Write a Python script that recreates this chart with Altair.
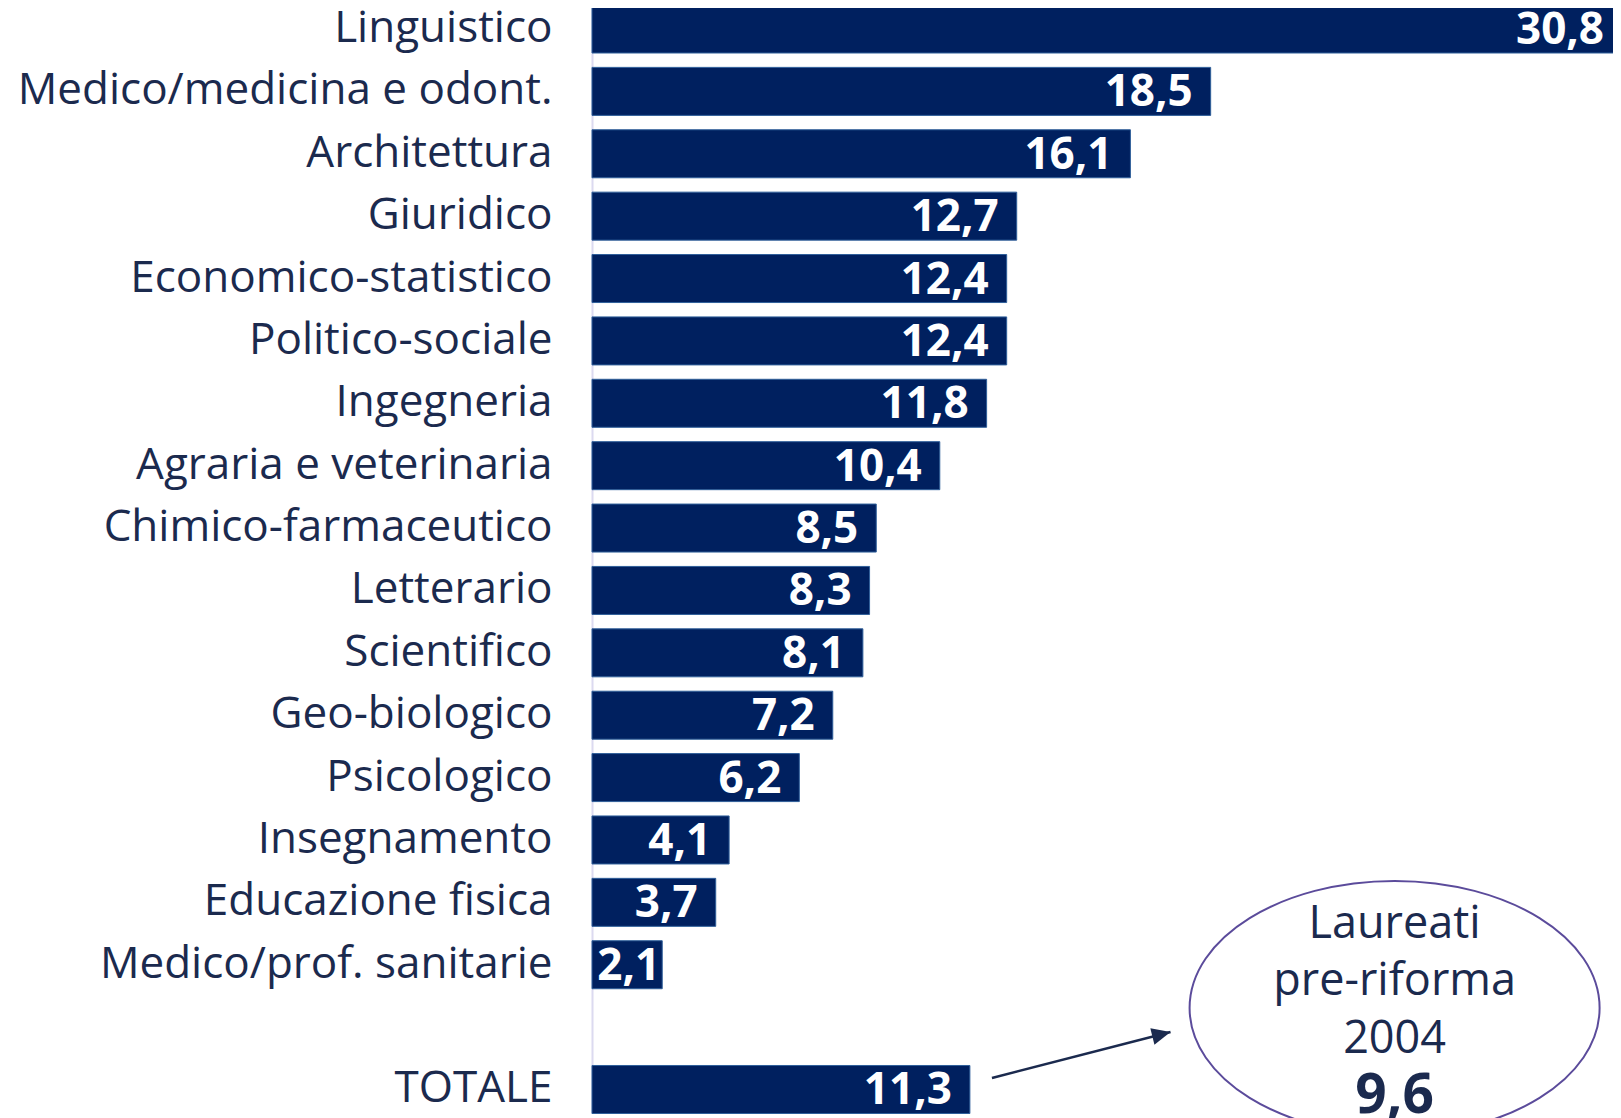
import altair as alt
import pandas as pd

categories = ["Linguistico", "Medico/medicina e odont.", "Architettura", "Giuridico",
              "Economico-statistico", "Politico-sociale", "Ingegneria",
              "Agraria e veterinaria", "Chimico-farmaceutico", "Letterario",
              "Scientifico", "Geo-biologico", "Psicologico", "Insegnamento",
              "Educazione fisica", "Medico/prof. sanitarie", "TOTALE"]
values = [30.8, 18.5, 16.1, 12.7, 12.4, 12.4, 11.8, 10.4, 8.5, 8.3, 8.1, 7.2,
          6.2, 4.1, 3.7, 2.1, 11.3]
y_order = categories[:16] + [" "] + ["TOTALE"]

note_lines = ["Laureati", "pre-riforma", "2004"]
note_value = 9.6

NAVY = "#00205F"
TEXT = "#1b2a4e"
FONT = "Open Sans"

df = pd.DataFrame({"cat": categories, "val": values})
df["lab"] = [f"{v:.1f}".replace(".", ",") for v in values]

xs = alt.Scale(domain=[0, 30.8], range=[0, 1030], nice=False)
ys = alt.Scale(domain=y_order, range=[-3, 1105.5], paddingInner=0.2305, paddingOuter=0)

base = alt.Chart(df)

bars = base.mark_bar(color=NAVY, stroke="#2f5f9a", strokeWidth=1).encode(
    x=alt.X("val:Q", scale=xs, axis=None),
    y=alt.Y("cat:N", scale=ys, sort=y_order,
            axis=alt.Axis(title=None, ticks=False, labelFontSize=44, labelFont=FONT,
                          labelColor=TEXT, labelPadding=40, labelLimit=0,
                          domainColor="#dcdaf0", domainWidth=2)),
)

label_style = dict(align="right", baseline="middle", dy=2, font=FONT, fontSize=44,
                   fontWeight="bold", color="white")
labels = base.transform_filter("datum.val >= 3").mark_text(dx=-18, **label_style).encode(
    x=alt.X("val:Q", scale=xs), y=alt.Y("cat:N", scale=ys, sort=y_order), text="lab:N"
)
labels_small = base.transform_filter("datum.val < 3").mark_text(dx=-2, **label_style).encode(
    x=alt.X("val:Q", scale=xs), y=alt.Y("cat:N", scale=ys, sort=y_order), text="lab:N"
)

ann = pd.DataFrame({"x": [24.0]})
ellipse = alt.Chart(ann).mark_point(
    shape="M -1 0 A 1 0.62 0 1 0 1 0 A 1 0.62 0 1 0 -1 0 Z",
    size=168100, filled=False, stroke="#5b4b9b", strokeWidth=2, opacity=1,
).encode(x=alt.X("x:Q", scale=xs), y=alt.value(1000))

txt_df = pd.DataFrame({"x": [24.0] * 3, "t": note_lines, "py": [930, 987, 1045]})
note_text = alt.Chart(txt_df).mark_text(
    align="center", baseline="alphabetic", font=FONT, fontSize=45, color=TEXT
).encode(x=alt.X("x:Q", scale=xs), y=alt.Y("py:Q", scale=None), text="t:N")

val_df = pd.DataFrame({"x": [24.0], "t": [f"{note_value:.1f}".replace(".", ",")]})
note_val = alt.Chart(val_df).mark_text(
    align="center", baseline="alphabetic", font=FONT, fontSize=55, fontWeight="bold", color=TEXT
).encode(x=alt.X("x:Q", scale=xs), y=alt.value(1105), text="t:N")

arrow_df = pd.DataFrame({"x": [11.96], "x2": [17.3]})
arrow_line = alt.Chart(arrow_df).mark_rule(color=TEXT, strokeWidth=2.5).encode(
    x=alt.X("x:Q", scale=xs), x2="x2:Q", y=alt.value(1070), y2=alt.value(1024)
)
arrow_head = alt.Chart(arrow_df).mark_point(
    shape="M 0 0 L -1 -0.45 L -1 0.45 Z", size=1400, filled=True, color=TEXT,
    angle=346, opacity=1,
).encode(x=alt.X("x2:Q", scale=xs), y=alt.value(1024))

chart = alt.layer(bars, labels, labels_small, ellipse, note_text, note_val,
                  arrow_line, arrow_head).properties(
    width=1021, height=1110,
    autosize=alt.AutoSizeParams(type="none"),
    padding={"left": 584, "top": 0, "right": 0, "bottom": 0},
).configure_view(strokeWidth=0)

chart.save("out.html", embed_options={"renderer": "svg", "actions": False})
